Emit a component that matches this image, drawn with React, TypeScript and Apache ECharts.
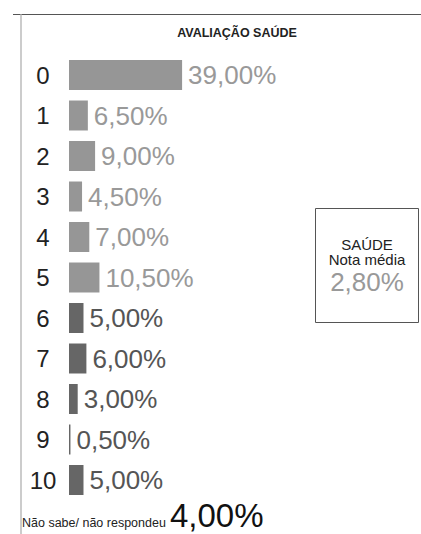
import React, { useEffect, useRef } from "react";
import * as echarts from "echarts";

const title = "AVALIAÇÃO SAÚDE";
const categories = ["0", "1", "2", "3", "4", "5", "6", "7", "8", "9", "10"];
const values = [39.0, 6.5, 9.0, 4.5, 7.0, 10.5, 5.0, 6.0, 3.0, 0.5, 5.0];
const boxLines = ["SAÚDE", "Nota média"];
const notaMedia = 2.8;
const naoSabeLabel = "Não sabe/ não respondeu";
const naoSabe = 4.0;

const fmt = (v: number) => v.toFixed(2).replace(".", ",") + "%";
const FONT = "'Liberation Sans', Arial, Helvetica, sans-serif";

export default function App() {
  const ref = useRef<HTMLDivElement>(null);
  useEffect(() => {
    if (!ref.current) return;
    const chart = echarts.init(ref.current, undefined, { renderer: "svg" });
    const data = values.map((v, i) => {
      const dark = i >= 6;
      return {
        value: v,
        itemStyle: { color: dark ? "#666666" : "#969696" },
        label: { color: dark ? "#555555" : "#999999" },
      };
    });
    chart.setOption({
      animation: false,
      backgroundColor: "#ffffff",
      textStyle: { fontFamily: FONT },
      grid: { left: 69, top: 54.75, height: 445.5, width: 290, containLabel: false },
      xAxis: { type: "value", min: 0, max: 100, show: false },
      yAxis: {
        type: "category",
        data: categories,
        inverse: true,
        axisLine: { show: false },
        axisTick: { show: false },
        splitLine: { show: false },
        axisLabel: {
          fontSize: 24,
          color: "#222222",
          margin: 26,
          align: "center",
          fontFamily: FONT,
        },
      },
      series: [
        {
          type: "bar",
          data,
          barWidth: 30,
          label: {
            show: true,
            position: "right",
            distance: 6,
            fontSize: 26,
            fontFamily: FONT,
            formatter: (p: any) => fmt(p.value),
          },
        },
      ],
      graphic: [
        {
          type: "line",
          shape: { x1: 13, y1: 14.5, x2: 421, y2: 14.5 },
          style: { stroke: "#555555", lineWidth: 1 },
        },
        {
          type: "line",
          shape: { x1: 21, y1: 14.5, x2: 21, y2: 534 },
          style: { stroke: "#cccccc", lineWidth: 2 },
        },
        {
          type: "text",
          x: 237,
          y: 33,
          style: {
            text: title,
            fontSize: 12.5,
            fontWeight: "bold",
            fill: "#222222",
            align: "center",
            verticalAlign: "middle",
            fontFamily: FONT,
          },
        },
        {
          type: "rect",
          shape: { x: 315.5, y: 208.5, width: 103, height: 114 },
          style: { fill: "#ffffff", stroke: "#555555", lineWidth: 1 },
        },
        {
          type: "text",
          x: 367,
          y: 244,
          style: {
            text: boxLines[0],
            fontSize: 15,
            fill: "#222222",
            align: "center",
            verticalAlign: "middle",
            fontFamily: FONT,
          },
        },
        {
          type: "text",
          x: 367,
          y: 259.5,
          style: {
            text: boxLines[1],
            fontSize: 15,
            fill: "#222222",
            align: "center",
            verticalAlign: "middle",
            fontFamily: FONT,
          },
        },
        {
          type: "text",
          x: 367,
          y: 282,
          style: {
            text: fmt(notaMedia),
            fontSize: 26,
            fill: "#999999",
            align: "center",
            verticalAlign: "middle",
            fontFamily: FONT,
          },
        },
        {
          type: "text",
          x: 22,
          y: 529,
          style: {
            text: naoSabeLabel,
            fontSize: 12.5,
            fill: "#222222",
            align: "left",
            verticalAlign: "bottom",
            fontFamily: FONT,
          },
        },
        {
          type: "text",
          x: 170,
          y: 532,
          style: {
            text: fmt(naoSabe),
            fontSize: 33,
            fill: "#111111",
            align: "left",
            verticalAlign: "bottom",
            fontFamily: FONT,
          },
        },
      ],
    });
    return () => chart.dispose();
  }, []);
  return (
    <div
      ref={ref}
      style={{ position: "absolute", left: 0, top: 0, width: 421, height: 534 }}
    />
  );
}
